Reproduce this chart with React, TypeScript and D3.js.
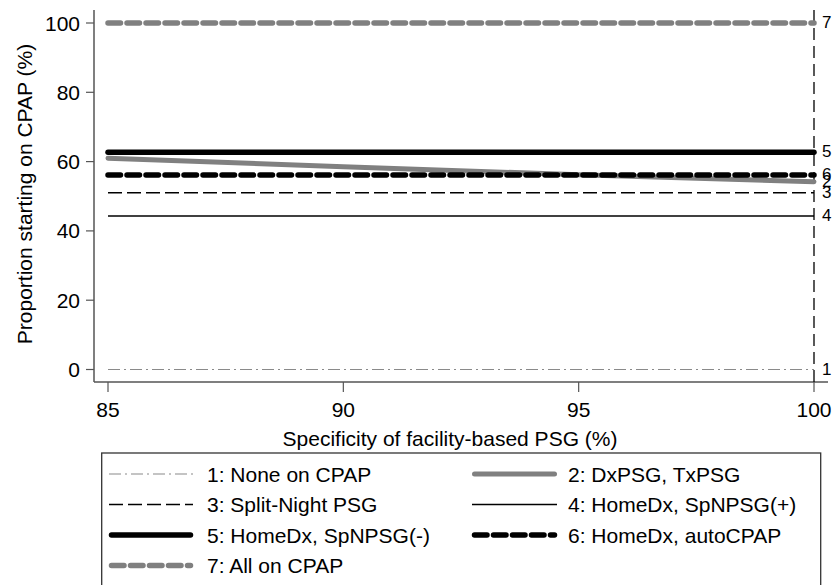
import React from "react";
import * as d3 from "d3";

const xValues = [85, 90, 95, 100];
const series1 = [0, 0, 0, 0];
const series2 = [61.0, 58.5, 56.2, 54.2];
const series3 = [51.0, 51.0, 51.0, 51.0];
const series4 = [44.3, 44.3, 44.3, 44.3];
const series5 = [62.7, 62.7, 62.7, 62.7];
const series6 = [56.1, 56.1, 56.1, 56.1];
const series7 = [100, 100, 100, 100];
const seriesIds = ["1", "2", "3", "4", "5", "6", "7"];
const seriesNames = [
  "1: None on CPAP",
  "2: DxPSG, TxPSG",
  "3: Split-Night PSG",
  "4: HomeDx, SpNPSG(+)",
  "5: HomeDx, SpNPSG(-)",
  "6: HomeDx, autoCPAP",
  "7: All on CPAP",
];
const xTicks = [85, 90, 95, 100];
const yTicks = [0, 20, 40, 60, 80, 100];
const refLineX = 100;

const GRAY = "#808080";
const styles = [
  { stroke: "#8a8a8a", width: 1.2, dash: "12,4,2,4", cap: "butt" },
  { stroke: GRAY, width: 5, dash: null, cap: "round" },
  { stroke: "#000", width: 1.5, dash: "14,5", cap: "butt" },
  { stroke: "#000", width: 1.5, dash: null, cap: "butt" },
  { stroke: "#000", width: 5.5, dash: null, cap: "round" },
  { stroke: "#000", width: 5.5, dash: "12.5,6.5", cap: "round" },
  { stroke: GRAY, width: 5.5, dash: "12.5,6.5", cap: "round" },
];

const allSeries = [series1, series2, series3, series4, series5, series6, series7];

export default function App() {
  const W = 837;
  const H = 585;
  const x = d3.scaleLinear().domain([85, 100]).range([108, 814]);
  const y = d3.scaleLinear().domain([0, 100]).range([369.5, 23]);
  const axisX = 94;
  const axisY = 382;
  const plotTop = 10;
  const plotRight = 828;
  const font = "'Liberation Sans', Arial, Helvetica, sans-serif";

  const line = d3
    .line<number>()
    .x((_, i) => x(xValues[i]))
    .y((d) => y(d));

  const order = [0, 2, 3, 1, 5, 4, 6];

  const legendRows = [474, 504.5, 535, 565.5];
  const legendCols = [
    { x0: 109, x1: 193, tx: 207 },
    { x0: 472, x1: 557, tx: 568 },
  ];

  return (
    <svg
      width={W}
      height={H}
      style={{ position: "absolute", left: 0, top: 0, background: "#fff" }}
      fontFamily={font}
    >
      <rect x={0} y={0} width={W} height={H} fill="#fff" />
      <line x1={axisX} y1={plotTop} x2={axisX} y2={axisY} stroke="#555" strokeWidth={1.5} />
      <line x1={axisX} y1={axisY} x2={plotRight} y2={axisY} stroke="#555" strokeWidth={1.5} />
      {yTicks.map((t) => (
        <g key={"y" + t}>
          <line x1={axisX - 8} x2={axisX} y1={y(t)} y2={y(t)} stroke="#555" strokeWidth={1.2} />
          <text x={80} y={y(t)} dy="0.36em" textAnchor="end" fontSize={21} fill="#000">
            {t}
          </text>
        </g>
      ))}
      {xTicks.map((t) => (
        <g key={"x" + t}>
          <line x1={x(t)} x2={x(t)} y1={axisY} y2={axisY + 10} stroke="#555" strokeWidth={1.2} />
          <text x={x(t)} y={409} dy="0.36em" textAnchor="middle" fontSize={21} fill="#000">
            {t}
          </text>
        </g>
      ))}
      <text x={450} y={446} textAnchor="middle" fontSize={21} fill="#000">
        Specificity of facility-based PSG (%)
      </text>
      <text
        transform={`translate(32,194) rotate(-90)`}
        textAnchor="middle"
        fontSize={21}
        fill="#000"
      >
        Proportion starting on CPAP (%)
      </text>

      <line
        x1={x(refLineX)}
        x2={x(refLineX)}
        y1={plotTop}
        y2={axisY}
        stroke="#000"
        strokeWidth={1.3}
        strokeDasharray="12,6"
      />

      {order.map((i) => {
        const s = styles[i];
        return (
          <path
            key={"s" + i}
            d={line(allSeries[i]) || ""}
            fill="none"
            stroke={s.stroke}
            strokeWidth={s.width}
            strokeDasharray={s.dash || undefined}
            strokeLinecap={s.cap as any}
          />
        );
      })}

      {seriesIds.map((id, i) => {
        const v = allSeries[i][allSeries[i].length - 1];
        return (
          <text key={"l" + id} x={822} y={y(v) - 1} dy="0.36em" fontSize={17} fill="#000">
            {id}
          </text>
        );
      })}

      <rect x={101.7} y={453} width={719} height={150} fill="none" stroke="#333" strokeWidth={1.3} />
      {seriesNames.map((name, i) => {
        const row = Math.floor(i / 2);
        const col = legendCols[i % 2];
        const ly = legendRows[row];
        const s = styles[i];
        return (
          <g key={"lg" + i}>
            <line
              x1={col.x0 + (s.cap === "round" ? 2.5 : 0)}
              x2={col.x1 - (s.cap === "round" ? 2.5 : 0)}
              y1={ly}
              y2={ly}
              stroke={s.stroke}
              strokeWidth={s.width}
              strokeDasharray={s.dash || undefined}
              strokeLinecap={s.cap as any}
            />
            <text x={col.tx} y={ly} dy="0.36em" fontSize={21} fill="#000">
              {name}
            </text>
          </g>
        );
      })}
    </svg>
  );
}
